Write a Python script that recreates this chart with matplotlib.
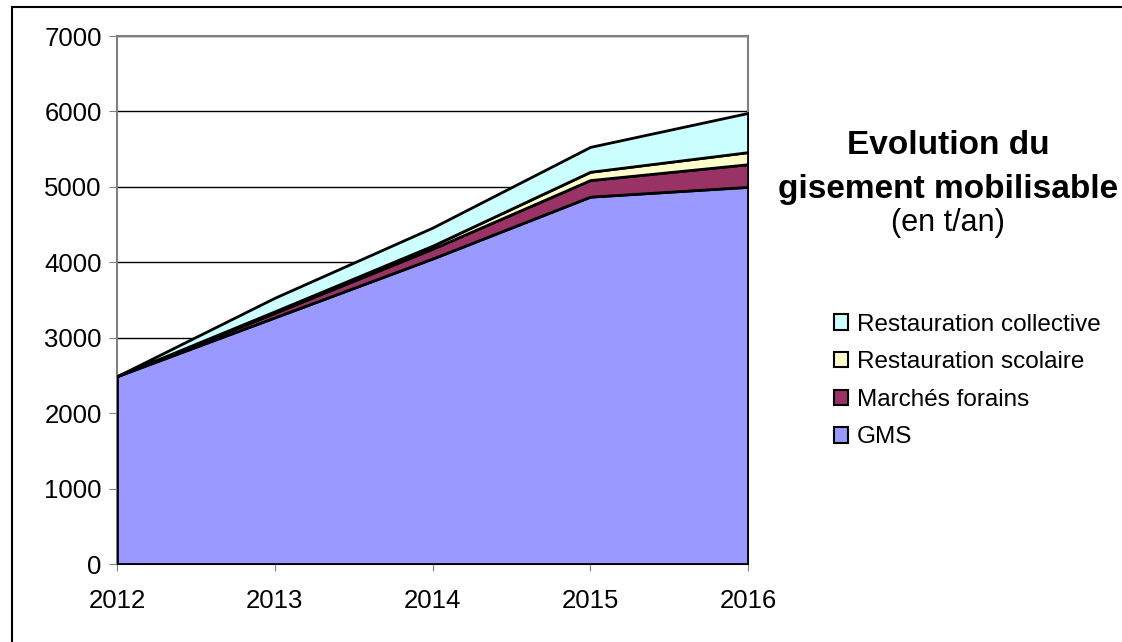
import matplotlib
matplotlib.use('agg')
import matplotlib.pyplot as plt
from matplotlib.patches import Patch
from matplotlib.lines import Line2D

plt.rcParams['font.family'] = ['Liberation Sans', 'DejaVu Sans']

years = [2012, 2013, 2014, 2015, 2016]
gms = [2490, 3270, 4050, 4870, 5000]
marches = [0, 60, 130, 220, 300]
scolaire = [0, 20, 40, 110, 160]
collective = [0, 180, 240, 330, 520]

labels = ['GMS', 'Marchés forains', 'Restauration scolaire', 'Restauration collective']
colors = ['#9999ff', '#993366', '#ffffcc', '#ccffff']

W, H = 1122, 642
fig = plt.figure(figsize=(W / 100, H / 100), dpi=100)
ax = fig.add_axes([117 / W, 1 - 564 / H, (748 - 117) / W, (564 - 36) / H])

ax.stackplot(years, gms, marches, scolaire, collective, colors=colors,
             edgecolor='black', linewidth=2, zorder=3)

ax.set_xlim(2012, 2016)
ax.set_ylim(0, 7000)
ax.set_xticks(years)
ax.set_yticks(range(0, 7001, 1000))
ax.yaxis.grid(True, color='black', linewidth=1, zorder=1)
ax.tick_params(axis='y', direction='out', length=6, color='#808080', labelsize=18.5, pad=5)
ax.tick_params(axis='x', direction='out', length=5, color='#808080', labelsize=18.5, pad=13)
for s in ['left', 'top', 'right', 'bottom']:
    ax.spines[s].set_color('#808080')
    ax.spines[s].set_linewidth(1.5)

fig.text(948 / W, 1 - 145 / H, 'Evolution du', ha='center', va='center',
         fontsize=24, fontweight='bold')
fig.text(948 / W, 1 - 190 / H, 'gisement mobilisable', ha='center', va='center',
         fontsize=24, fontweight='bold')
fig.text(948 / W, 1 - 223 / H, '(en t/an)', ha='center', va='center', fontsize=22)

handles = [Patch(facecolor=c, edgecolor='black', linewidth=1.5) for c in colors]
fig.legend(handles[::-1], labels[::-1], loc='upper left',
           bbox_to_anchor=(824 / W, 1 - 304 / H), frameon=False,
           fontsize=17.5, handlelength=0.6, handleheight=0.6,
           handletextpad=0.35, labelspacing=0.64, borderaxespad=0)

# frame: only left and top edges show in the cropped picture
fig.add_artist(Line2D([12 / W, 12 / W], [0, 1 - 7 / H], transform=fig.transFigure,
                      color='black', linewidth=1.5))
fig.add_artist(Line2D([12 / W, 1], [1 - 7 / H, 1 - 7 / H], transform=fig.transFigure,
                      color='black', linewidth=1.5))

fig.savefig('out.png', dpi=100)
